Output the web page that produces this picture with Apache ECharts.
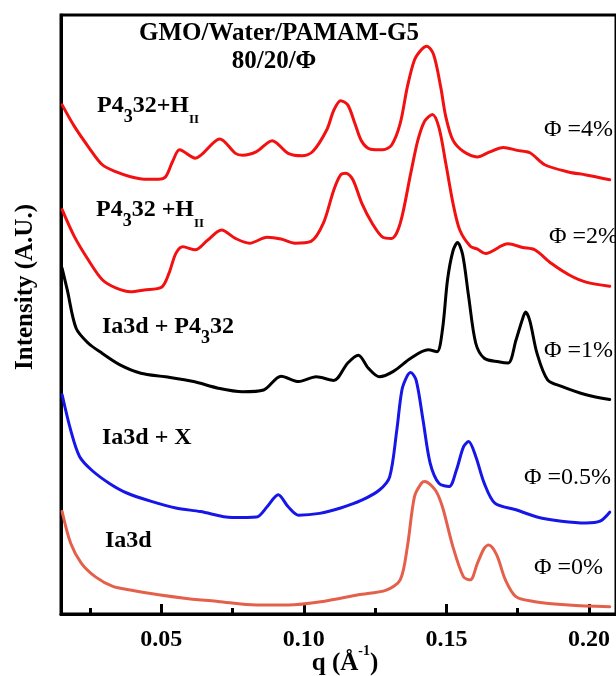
<!DOCTYPE html>
<html>
<head>
<meta charset="utf-8">
<title>GMO/Water/PAMAM-G5 SAXS</title>
<script src="https://cdn.jsdelivr.net/npm/echarts@6/dist/echarts.min.js"></script>
<style>
  html, body { margin: 0; padding: 0; background: #fff; }
  #chart { width: 616px; height: 676px; }
</style>
</head>
<body>
<div id="chart"></div>
<script>
// Scattering vector q (1/Å) and offset intensity (A.U.) for each composition
const qPhi4 = [0.0152,0.0195,0.0244,0.0293,0.0342,0.0392,0.0440,0.0490,0.0515,0.0539,0.0564,0.0619,0.0705,0.0760,0.0785,0.0834,0.0889,0.0945,0.0994,0.1031,0.1080,0.1105,0.1129,0.1154,0.1179,0.1203,0.1234,0.1277,0.1308,0.1338,0.1363,0.1388,0.1412,0.1431,0.1455,0.1480,0.1498,0.1523,0.1560,0.1609,0.1650,0.1700,0.1748,0.1793,0.1845,0.1928,0.1990,0.2073];
const iPhi4 = [85.0,81.4,78.0,75.0,73.8,73.0,72.6,72.6,73.0,75.5,77.5,76.1,79.3,76.9,76.6,77.2,79.0,76.9,76.5,77.2,80.8,84.1,85.7,85.0,81.9,78.9,77.6,77.5,78.3,81.9,88.0,92.5,94.2,94.8,93.4,88.0,83.0,79.1,77.2,76.3,77.1,77.9,77.4,77.0,75.0,73.8,73.3,72.5];

const qPhi2 = [0.0152,0.0195,0.0244,0.0293,0.0342,0.0392,0.0440,0.0502,0.0527,0.0551,0.0576,0.0619,0.0662,0.0711,0.0760,0.0810,0.0871,0.0920,0.0969,0.1025,0.1068,0.1105,0.1129,0.1148,0.1172,0.1203,0.1240,0.1277,0.1308,0.1338,0.1375,0.1400,0.1424,0.1451,0.1474,0.1498,0.1523,0.1547,0.1584,0.1609,0.1637,0.1716,0.1768,0.1810,0.1869,0.1931,0.1990,0.2073];
const iPhi2 = [67.5,63.0,59.1,55.8,54.4,53.8,54.1,54.6,56.9,60.2,61.3,60.8,62.4,64.1,62.7,61.9,62.9,62.6,61.9,62.2,65.2,70.8,73.3,73.6,72.5,68.6,65.2,62.9,62.7,65.2,73.6,79.1,82.3,83.4,81.2,75.2,68.6,64.1,61.4,60.9,60.2,61.8,61.2,60.8,58.5,56.6,55.4,54.7];

const qPhi1 = [0.0152,0.0170,0.0201,0.0244,0.0293,0.0355,0.0428,0.0515,0.0613,0.0699,0.0785,0.0859,0.0920,0.0982,0.1043,0.1105,0.1154,0.1191,0.1227,0.1265,0.1314,0.1375,0.1436,0.1467,0.1486,0.1504,0.1523,0.1539,0.1557,0.1578,0.1603,0.1633,0.1683,0.1717,0.1744,0.1766,0.1778,0.1793,0.1818,0.1855,0.1904,0.1990,0.2073];
const iPhi1 = [57.7,54.1,47.7,45.2,43.5,41.6,40.2,39.6,38.8,37.7,37.1,37.4,39.7,38.8,39.6,39.0,41.9,43.2,41.0,39.6,40.5,42.7,44.1,43.8,47.4,55.8,60.6,62.0,60.0,53.0,45.2,42.7,42.1,41.9,45.7,49.1,50.4,48.9,43.5,39.1,38.0,36.6,35.8];

const qPhi05 = [0.0152,0.0182,0.0213,0.0256,0.0318,0.0379,0.0465,0.0551,0.0637,0.0748,0.0834,0.0871,0.0910,0.0945,0.0982,0.1055,0.1129,0.1203,0.1265,0.1301,0.1326,0.1344,0.1363,0.1375,0.1394,0.1418,0.1443,0.1474,0.1510,0.1535,0.1560,0.1578,0.1603,0.1633,0.1670,0.1744,0.1818,0.1904,0.1990,0.2039,0.2073];
const iPhi05 = [36.6,30.7,26.3,24.0,21.8,20.2,18.8,17.7,17.1,16.1,16.2,17.9,19.9,17.9,16.5,16.8,17.7,19.0,20.7,22.9,30.7,37.4,39.8,40.3,39.0,32.4,25.2,21.8,21.3,24.0,27.9,28.8,26.3,21.8,18.5,17.4,16.2,15.5,15.2,15.5,17.0];

const qPhi0 = [0.0152,0.0182,0.0219,0.0269,0.0330,0.0391,0.0490,0.0588,0.0699,0.0834,0.0945,0.1068,0.1191,0.1289,0.1338,0.1363,0.1388,0.1412,0.1424,0.1461,0.1486,0.1523,0.1560,0.1584,0.1609,0.1633,0.1648,0.1676,0.1707,0.1744,0.1805,0.1929,0.2073];
const iPhi0 = [17.1,11.8,8.5,6.2,4.6,4.0,3.2,2.6,2.1,1.5,1.5,2.1,3.2,4.0,5.7,11.2,19.6,21.8,22.1,20.7,17.9,11.2,6.2,5.7,8.5,11.0,11.5,9.9,5.7,2.9,2.1,1.5,1.2];

// Axis ticks
const majorTicks = [0.05, 0.10, 0.15, 0.20];
const minorTicks = [0.025, 0.075, 0.125, 0.175];

const FONT = "'Liberation Serif', 'Times New Roman', serif";

function pairs(qs, is) {
  return qs.map((q, k) => [q, is[k]]);
}

function curve(name, qs, is, color) {
  return {
    name: name,
    type: 'line',
    xAxisIndex: 0,
    yAxisIndex: 0,
    data: pairs(qs, is),
    showSymbol: false,
    smooth: 0.3,
    lineStyle: { color: color, width: 3, join: 'round', cap: 'round' },
    itemStyle: { color: color },
    z: 3
  };
}

// Rich-text styles for phase labels with subscripts
const phaseRich = {
  m: { fontFamily: FONT, fontSize: 24, fontWeight: 'bold', lineHeight: 40, fill: '#000' },
  s: { fontFamily: FONT, fontSize: 18, fontWeight: 'bold', lineHeight: 19, verticalAlign: 'bottom', fill: '#000' },
  t: { fontFamily: FONT, fontSize: 13, fontWeight: 'bold', lineHeight: 16, verticalAlign: 'bottom', fill: '#000' }
};

function phaseLabel(text, x, y) {
  return {
    type: 'text', x: x, y: y, z: 10,
    style: { text: text, rich: phaseRich, align: 'left', verticalAlign: 'middle' }
  };
}

function phiLabel(text, x, y) {
  return {
    type: 'text', x: x, y: y, z: 10,
    style: { text: text, font: '24px ' + FONT, fill: '#000', align: 'left', verticalAlign: 'middle' }
  };
}

const chart = echarts.init(document.getElementById('chart'), null, { renderer: 'canvas' });

chart.setOption({
  animation: false,
  backgroundColor: '#fff',
  grid: {
    left: 61, top: 15, width: 561.5, height: 599,
    show: true, borderColor: '#000', borderWidth: 3, backgroundColor: 'transparent'
  },
  xAxis: [
    {
      type: 'value', min: 0.0148, max: 0.2095,
      axisLine: { show: true, lineStyle: { color: '#000', width: 3 } },
      axisTick: { show: true, inside: true, length: 10, customValues: majorTicks, lineStyle: { color: '#000', width: 3 } },
      axisLabel: {
        show: true, customValues: majorTicks, margin: 14,
        formatter: v => v.toFixed(2),
        color: '#000', fontFamily: FONT, fontSize: 24, fontWeight: 'bold'
      },
      splitLine: { show: false }
    },
    {
      type: 'value', min: 0.0148, max: 0.2095, position: 'bottom',
      axisLine: { show: false },
      axisTick: { show: true, inside: true, length: 6, customValues: minorTicks, lineStyle: { color: '#000', width: 3 } },
      axisLabel: { show: false },
      splitLine: { show: false }
    }
  ],
  yAxis: {
    type: 'value', min: 0, max: 100,
    axisLine: { show: true, lineStyle: { color: '#000', width: 3 } },
    axisTick: { show: false },
    axisLabel: { show: false },
    splitLine: { show: false }
  },
  series: [
    curve('Φ =4%', qPhi4, iPhi4, '#f21010'),
    curve('Φ =2%', qPhi2, iPhi2, '#f21010'),
    curve('Φ =1%', qPhi1, iPhi1, '#000000'),
    curve('Φ =0.5%', qPhi05, iPhi05, '#1616e8'),
    curve('Φ =0%', qPhi0, iPhi0, '#e5604b')
  ],
  graphic: [
    {
      type: 'text', x: 279, y: 34, z: 10,
      style: { text: 'GMO/Water/PAMAM-G5', font: 'bold 25px ' + FONT, fill: '#000', align: 'center', verticalAlign: 'middle' }
    },
    {
      type: 'text', x: 274, y: 62, z: 10,
      style: { text: '80/20/Φ', font: 'bold 25px ' + FONT, fill: '#000', align: 'center', verticalAlign: 'middle' }
    },
    phaseLabel('{m|P4}{s|3}{m|32+H}{t|II}', 97, 106),
    phaseLabel('{m|P4}{s|3}{m|32 +H}{t|II}', 96, 210),
    phaseLabel('{m|Ia3d + P4}{s|3}{m|32}', 102, 327),
    phaseLabel('{m|Ia3d + X}', 102, 438),
    phaseLabel('{m|Ia3d}', 105, 541),
    phiLabel('Φ =4%', 544, 130),
    phiLabel('Φ =2%', 549, 237),
    phiLabel('Φ =1%', 544, 351),
    phiLabel('Φ =0.5%', 524, 478),
    phiLabel('Φ =0%', 534, 568),
    {
      type: 'text', x: 26, y: 287, rotation: Math.PI / 2, z: 10,
      style: { text: 'Intensity (A.U.)', font: 'bold 25px ' + FONT, fill: '#000', align: 'center', verticalAlign: 'middle' }
    },
    {
      type: 'text', x: 345, y: 664, z: 10,
      style: {
        text: '{m|q (Å}{p|-1}{m|)}',
        align: 'center', verticalAlign: 'middle',
        rich: {
          m: { fontFamily: FONT, fontSize: 25, fontWeight: 'bold', lineHeight: 40, fill: '#000' },
          p: { fontFamily: FONT, fontSize: 14, fontWeight: 'bold', lineHeight: 22, verticalAlign: 'top', fill: '#000' }
        }
      }
    }
  ]
});
</script>
</body>
</html>
